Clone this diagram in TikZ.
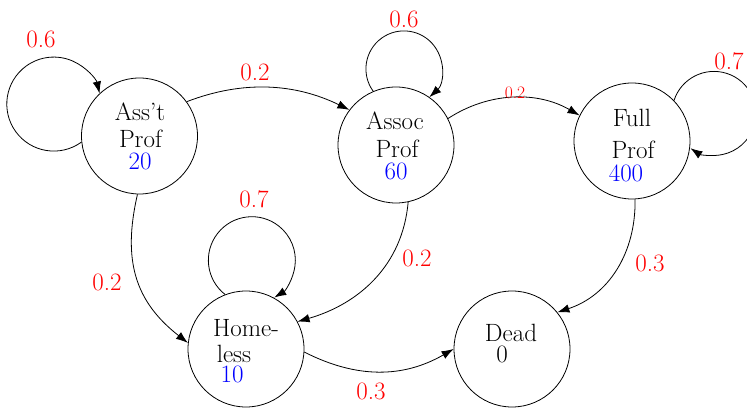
\documentclass[tikz,border=0pt]{standalone}
\usepackage{fontspec}
\usetikzlibrary{arrows.meta}
\begin{document}
\begin{tikzpicture}[x=1pt,y=1pt,
  state/.style={draw,circle,minimum size=116pt,inner sep=0pt,line width=0.8pt},
  txt/.style={anchor=base,inner sep=0pt,font=\fontsize{25}{30}\selectfont},
  num/.style={txt,text=blue},
  prob/.style={txt,text=red},
  smallprob/.style={anchor=base,inner sep=0pt,text=red,font=\fontsize{17.5}{20}\selectfont},
  edge/.style={line width=0.8pt,-{Latex[length=12pt,width=8.5pt]}}]
\useasboundingbox (0,0) rectangle (747,407);
% states
\node[state] (ast) at (139.5,271) {};
\node[state] (asc) at (396,262) {};
\node[state] (full) at (632,266) {};
\node[state] (home) at (246,58) {};
\node[state] (dead) at (512,58) {};
% state texts
\node[txt] (astA) at (140,286) {Ass't};
\node[txt] (astB) at (140.5,259) {Prof};
\node[num] (astC) at (140,237) {20};
\node[txt] (ascA) at (395,277) {Assoc};
\node[txt] (ascB) at (397,249) {Prof};
\node[num] (ascC) at (396,227) {60};
\node[txt] (fullA) at (632,280) {Full};
\node[txt] (fullB) at (633,248) {Prof};
\node[num] (fullC) at (626,225) {400};
\node[txt] (homeA) at (246,70) {Home-};
\node[txt] (homeB) at (234,45) {less};
\node[num] (homeC) at (232,24) {10};
\node[txt] (deadA) at (511,65) {Dead};
\node[txt] (deadB) at (502,45) {0};
% transitions
\draw[edge] (ast.36) to[out=21,in=154,looseness=0.95] (asc.143);
\draw[edge] (asc.27) to[out=33,in=150,looseness=0.95] (full.154);
\draw[edge] (ast.268) to[out=257,in=142,looseness=1.1] (home.174);
\draw[edge] (asc.282) to[out=265,in=16,looseness=1.0] (home.28);
\draw[edge] (full.273) to[out=271,in=18,looseness=1.0] (dead.39);
\draw[edge] (home.357) to[out=333,in=210,looseness=1.0] (dead.180);
% self loops
\draw[edge] (ast.186) arc[start angle=-54,end angle=-347,radius=47];
\draw[edge] (asc.113) arc[start angle=216,end angle=-48,radius=38];
\draw[edge] (full.44) arc[start angle=162,end angle=-124,radius=42];
\draw[edge] (home.111) arc[start angle=232,end angle=-59,radius=43.5];
% probabilities
\node[prob] (pAst) at (41,359) {0.6};
\node[prob] (pAsc) at (404,379) {0.6};
\node[prob] (pFull) at (729,337) {0.7};
\node[prob] (pHome) at (254,199) {0.7};
\node[prob] (pAstAsc) at (255,326) {0.2};
\node[smallprob] (pAscFull) at (515,308) {0.2};
\node[prob] (pAstHome) at (107,116) {0.2};
\node[prob] (pAscHome) at (417,140) {0.2};
\node[prob] (pFullDead) at (650,135) {0.3};
\node[prob] (pHomeDead) at (371,8) {0.3};
\end{tikzpicture}
\end{document}
